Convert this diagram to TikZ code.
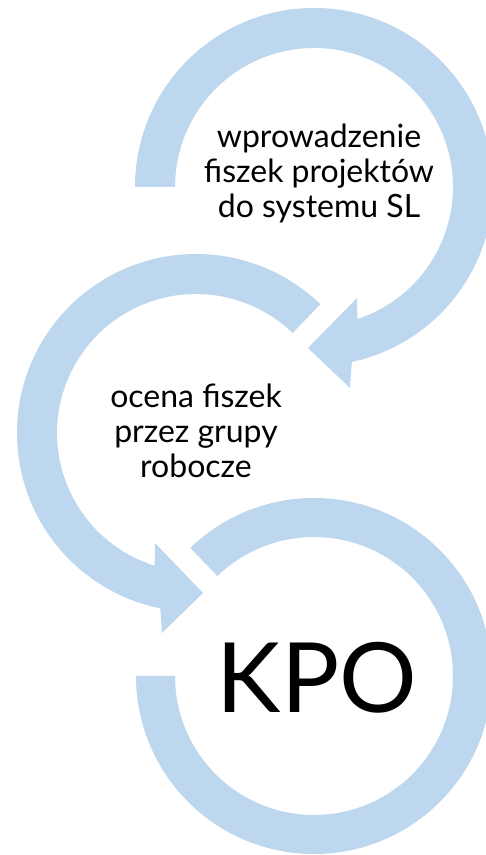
\documentclass[tikz,border=0pt]{standalone}
\usepackage{fontspec}
\setmainfont{Lato}
\usetikzlibrary{calc}
\definecolor{ringblue}{HTML}{BDD7EE}
\begin{document}
\begin{tikzpicture}[x=1pt,y=1pt,
  ring/.style={fill=ringblue,draw=none},
  label/.style={align=center,font=\fontsize{32}{35}\selectfont,inner sep=0pt,anchor=base}]
\useasboundingbox[fill=white] (0,0) rectangle (486,855);
\coordinate (c1) at (314,668);
\coordinate (c2) at (196,422);
\coordinate (c3) at (314,179);
% arrow 1 (top)
\path[ring] ($(c1)+(180:179)$) arc[start angle=180,end angle=-77.8,radius=179]
  -- (350,467) -- (308,507) -- (357,557)
  -- ($(c1)+(-71.8:139)$) arc[start angle=-71.8,end angle=180,radius=139] -- cycle;
% arrow 2 (middle)
\path[ring] ($(c2)+(46:179)$) arc[start angle=46,end angle=258.5,radius=179]
  -- (162,222) -- (203,262) -- (155,312)
  -- ($(c2)+(252.7:139)$) arc[start angle=252.7,end angle=46,radius=139] -- cycle;
% ring 3 (bottom)
\path[ring] ($(c3)+(134:178)$) arc[start angle=134,end angle=-180,radius=178]
  -- ($(c3)+(180:139)$) arc[start angle=-180,end angle=134,radius=139] -- cycle;
\node[label] (t1) at (319,637) {wprowadzenie\\fiszek projektów\\do systemu SL};
\node[label] (t2) at (196,377) {ocena fiszek\\przez grupy\\robocze};
\node[inner sep=0pt,anchor=base,font=\fontsize{97}{100}\selectfont] (t3) at (317,142) {KPO};
\end{tikzpicture}
\end{document}
